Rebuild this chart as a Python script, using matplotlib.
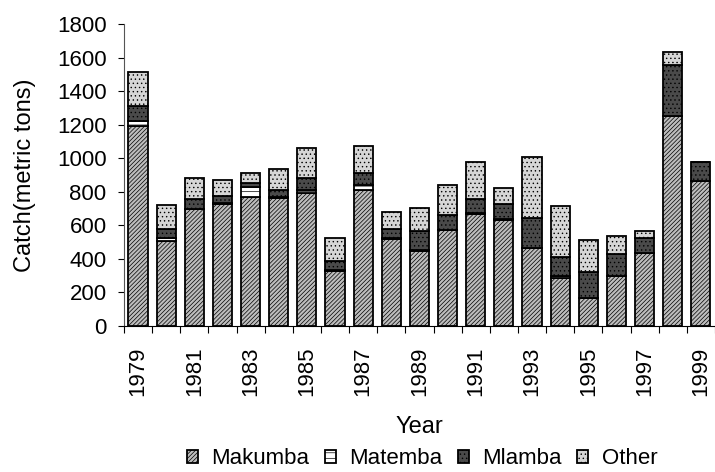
import numpy as np
import matplotlib
matplotlib.use("Agg")
import matplotlib.pyplot as plt

# catch by gear type, metric tons per year
years = list(range(1979, 2000))
makumba = [1195, 505, 695, 725, 770, 765, 795, 325, 810, 520, 450, 575, 670, 630, 465, 285, 165, 298, 438, 1250, 863]
matemba = [30, 20, 5, 10, 60, 5, 15, 10, 30, 5, 2, 0, 5, 5, 0, 15, 0, 0, 0, 0, 0]
mlamba = [85, 55, 55, 40, 25, 40, 70, 50, 70, 52, 115, 85, 85, 95, 180, 110, 155, 130, 85, 305, 115]
other = [205, 140, 125, 95, 55, 125, 180, 140, 165, 100, 135, 180, 220, 95, 360, 305, 190, 110, 42, 80, 0]

series = [("Makumba", makumba, "#bdbdbd", "////////"),
          ("Matemba", matemba, "white", "---"),
          ("Mlamba", mlamba, "#4a4a4a", "...."),
          ("Other", other, "#d6d6d6", "....")]

plt.rcParams['font.family'] = ['Liberation Sans', 'DejaVu Sans']
plt.rcParams['font.size'] = 16
plt.rcParams['hatch.linewidth'] = 0.5

fig = plt.figure(figsize=(7.15, 4.72), dpi=100)
ax = fig.add_axes([0.1734, 0.3093, 0.8266, 0.6397])

x = np.arange(len(years))
bottom = np.zeros(len(years))
for name, vals, col, hatch in series:
    vals = np.array(vals, dtype=float)
    ax.bar(x, vals, width=0.68, bottom=bottom, color=col, hatch=hatch,
           edgecolor="black", linewidth=1.3, label=name)
    bottom += vals

ax.set_xlim(-0.5, len(years) - 0.5)
ax.set_ylim(0, 1800)
ax.set_yticks(np.arange(0, 1801, 200))

# labels on every other year, tick marks between categories
ax.set_xticks(x[::2])
ax.set_xticklabels([str(y) for y in years[::2]], rotation=90)
ax.set_xticks(np.arange(-0.5, len(years), 1), minor=True)
ax.tick_params(axis="x", which="major", length=0, pad=15)
ax.tick_params(axis="x", which="minor", length=5, direction="out", width=0.8)
ax.tick_params(axis="y", length=4.5, direction="out", width=0.8, pad=8)

ax.spines["top"].set_visible(False)
ax.spines["right"].set_visible(False)
ax.spines["left"].set_color("#555555")
ax.spines["left"].set_linewidth(0.8)
ax.spines["bottom"].set_linewidth(0.8)

ax.set_ylabel("Catch(metric tons)", fontsize=17, labelpad=15)
ax.set_xlabel("Year", fontsize=17, labelpad=14)

fig.legend(loc="lower center", bbox_to_anchor=(0.59, -0.018), ncol=4, frameon=False,
           handlelength=0.5, handleheight=0.5, handletextpad=0.6, columnspacing=0.7,
           borderaxespad=0.1)

fig.savefig("out.png", dpi=100)
